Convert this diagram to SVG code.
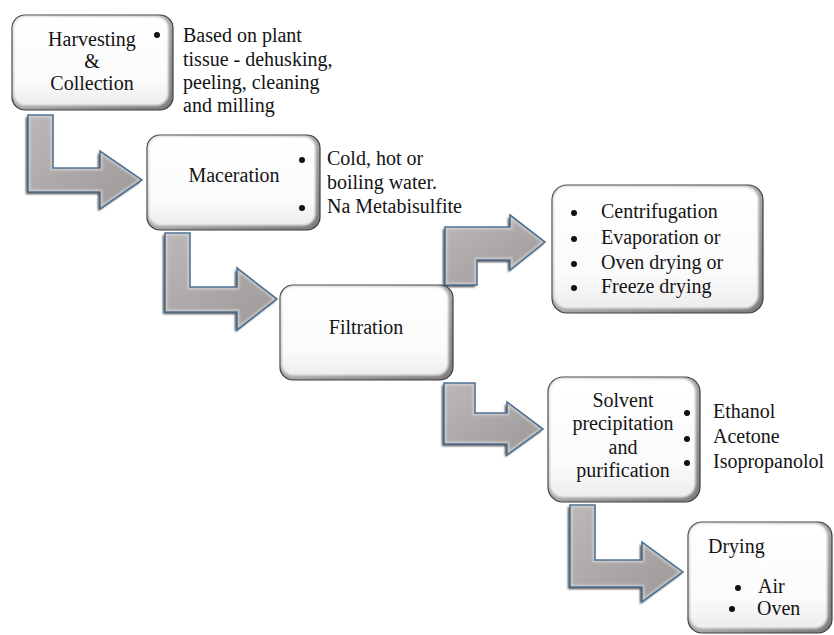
<svg xmlns="http://www.w3.org/2000/svg" xmlns:xlink="http://www.w3.org/1999/xlink" width="834" height="635" viewBox="0 0 834 635">
<style>
  text { font-size: 20px; fill: #141414; }
  .c { text-anchor: middle; }
  .rim { fill: url(#rimGrad); stroke: #3c3c3c; stroke-width: 1.2; }
  .face { fill: url(#faceGrad); filter: url(#soft); }
  .ashadow { fill: #2e2e2e; filter: url(#blur1); opacity: 0.9; }
  .afill { fill: url(#arrowGrad); }
  .abevel { fill: none; stroke: #dedada; stroke-width: 5; filter: url(#blur1); opacity: 0.7; }
  .aline { fill: none; stroke: #4f7194; stroke-width: 1.6; stroke-linejoin: miter; }
  .dot { fill: #111; }
</style>
<defs>
  <linearGradient id="rimGrad" x1="0" y1="0" x2="1" y2="1">
    <stop offset="0" stop-color="#d8d8d8"/>
    <stop offset="1" stop-color="#7a7a7a"/>
  </linearGradient>
  <linearGradient id="faceGrad" x1="0" y1="0" x2="0" y2="1">
    <stop offset="0" stop-color="#ffffff"/>
    <stop offset="0.7" stop-color="#fbfbfb"/>
    <stop offset="1" stop-color="#ededed"/>
  </linearGradient>
  <linearGradient id="arrowGrad" x1="0" y1="0" x2="1" y2="1">
    <stop offset="0" stop-color="#bcb8b8"/>
    <stop offset="1" stop-color="#9c9898"/>
  </linearGradient>
  <filter id="soft" x="-5%" y="-5%" width="110%" height="110%">
    <feGaussianBlur stdDeviation="1.2"/>
  </filter>
  <filter id="blur1" x="-10%" y="-10%" width="120%" height="120%">
    <feGaussianBlur stdDeviation="1"/>
  </filter>
  <polygon id="p1" points="28,115 53,115 53,168 100,168 100,151 142,180 100,209 100,192 28,192"/>
  <polygon id="p2" points="165,233 190,233 190,287 237,287 237,268 277,299 237,330 237,312 165,312"/>
  <polygon id="p3" points="445,285 445,227 510,227 510,215 545,242 510,270 510,260 477,260 477,285"/>
  <polygon id="p4" points="444,383 475,383 475,413 507,413 507,402 543,429 507,455 507,444 444,444"/>
  <polygon id="p5" points="570,505 595,505 595,560 642,560 642,542 683,572 642,602 642,587 570,587"/>
  <clipPath id="c1"><use xlink:href="#p1"/></clipPath>
  <clipPath id="c2"><use xlink:href="#p2"/></clipPath>
  <clipPath id="c3"><use xlink:href="#p3"/></clipPath>
  <clipPath id="c4"><use xlink:href="#p4"/></clipPath>
  <clipPath id="c5"><use xlink:href="#p5"/></clipPath>
</defs>
<rect width="834" height="635" fill="#ffffff"/>

<g id="connectors">
  <g id="arrow1">
    <use xlink:href="#p1" class="ashadow" transform="translate(-2,2)"/>
    <use xlink:href="#p1" class="afill"/>
    <use xlink:href="#p1" class="abevel" clip-path="url(#c1)"/>
    <use xlink:href="#p1" class="aline"/>
  </g>
  <g id="arrow2">
    <use xlink:href="#p2" class="ashadow" transform="translate(-2,2)"/>
    <use xlink:href="#p2" class="afill"/>
    <use xlink:href="#p2" class="abevel" clip-path="url(#c2)"/>
    <use xlink:href="#p2" class="aline"/>
  </g>
  <g id="arrow3">
    <use xlink:href="#p3" class="ashadow" transform="translate(-2,2)"/>
    <use xlink:href="#p3" class="afill"/>
    <use xlink:href="#p3" class="abevel" clip-path="url(#c3)"/>
    <use xlink:href="#p3" class="aline"/>
  </g>
  <g id="arrow4">
    <use xlink:href="#p4" class="ashadow" transform="translate(-2,2)"/>
    <use xlink:href="#p4" class="afill"/>
    <use xlink:href="#p4" class="abevel" clip-path="url(#c4)"/>
    <use xlink:href="#p4" class="aline"/>
  </g>
  <g id="arrow5">
    <use xlink:href="#p5" class="ashadow" transform="translate(-2,2)"/>
    <use xlink:href="#p5" class="afill"/>
    <use xlink:href="#p5" class="abevel" clip-path="url(#c5)"/>
    <use xlink:href="#p5" class="aline"/>
  </g>
</g>

<g font-family="Liberation Serif, Times New Roman, serif">
<g id="harvesting">
  <rect class="rim" x="12" y="15" width="161" height="95" rx="13"/>
  <rect class="face" x="13.5" y="16.5" width="155" height="89" rx="12"/>
  <text class="c" x="92" y="46">Harvesting</text>
  <text class="c" x="92" y="68">&amp;</text>
  <text class="c" x="92" y="90">Collection</text>
</g>
<g id="harvesting-notes">
  <circle class="dot" cx="157" cy="35" r="3"/>
  <text x="183" y="42">Based on plant</text>
  <text x="183" y="66">tissue - dehusking,</text>
  <text x="183" y="89">peeling, cleaning</text>
  <text x="183" y="112">and milling</text>
</g>

<g id="maceration">
  <rect class="rim" x="147" y="135" width="173" height="95" rx="13"/>
  <rect class="face" x="148.5" y="136.5" width="167" height="89" rx="12"/>
  <text class="c" x="234" y="182">Maceration</text>
</g>
<g id="maceration-notes">
  <circle class="dot" cx="302" cy="160" r="3"/>
  <circle class="dot" cx="302" cy="208" r="3"/>
  <text x="327" y="165">Cold, hot or</text>
  <text x="327" y="189">boiling water.</text>
  <text x="327" y="213">Na Metabisulfite</text>
</g>

<g id="filtration">
  <rect class="rim" x="280" y="285" width="173" height="95" rx="13"/>
  <rect class="face" x="281.5" y="286.5" width="167" height="89" rx="12"/>
  <text class="c" x="366" y="334">Filtration</text>
</g>

<g id="drying-methods">
  <rect class="rim" x="552" y="185" width="211" height="128" rx="15"/>
  <rect class="face" x="553.5" y="186.5" width="205" height="122" rx="14"/>
  <circle class="dot" cx="574" cy="213" r="3"/>
  <circle class="dot" cx="574" cy="239" r="3"/>
  <circle class="dot" cx="574" cy="264" r="3"/>
  <circle class="dot" cx="574" cy="288" r="3"/>
  <text x="601" y="218">Centrifugation</text>
  <text x="601" y="244">Evaporation or</text>
  <text x="601" y="269">Oven drying or</text>
  <text x="601" y="293">Freeze drying</text>
</g>

<g id="solvent">
  <rect class="rim" x="548" y="377" width="152" height="125" rx="15"/>
  <rect class="face" x="549.5" y="378.5" width="146" height="119" rx="14"/>
  <text class="c" x="623" y="407">Solvent</text>
  <text class="c" x="623" y="430">precipitation</text>
  <text class="c" x="623" y="454">and</text>
  <text class="c" x="623" y="477">purification</text>
</g>
<g id="solvent-notes">
  <circle class="dot" cx="687" cy="413" r="3"/>
  <circle class="dot" cx="687" cy="439" r="3"/>
  <circle class="dot" cx="687" cy="463" r="3"/>
  <text x="713" y="418">Ethanol</text>
  <text x="713" y="443">Acetone</text>
  <text x="713" y="468">Isopropanolol</text>
</g>

<g id="drying">
  <rect class="rim" x="688" y="522" width="144" height="111" rx="14"/>
  <rect class="face" x="689.5" y="523.5" width="138" height="105" rx="13"/>
  <text x="708" y="553">Drying</text>
  <circle class="dot" cx="738" cy="588" r="3"/>
  <circle class="dot" cx="732" cy="609" r="3"/>
  <text x="758" y="593">Air</text>
  <text x="757" y="615">Oven</text>
</g>
</g>
</svg>
